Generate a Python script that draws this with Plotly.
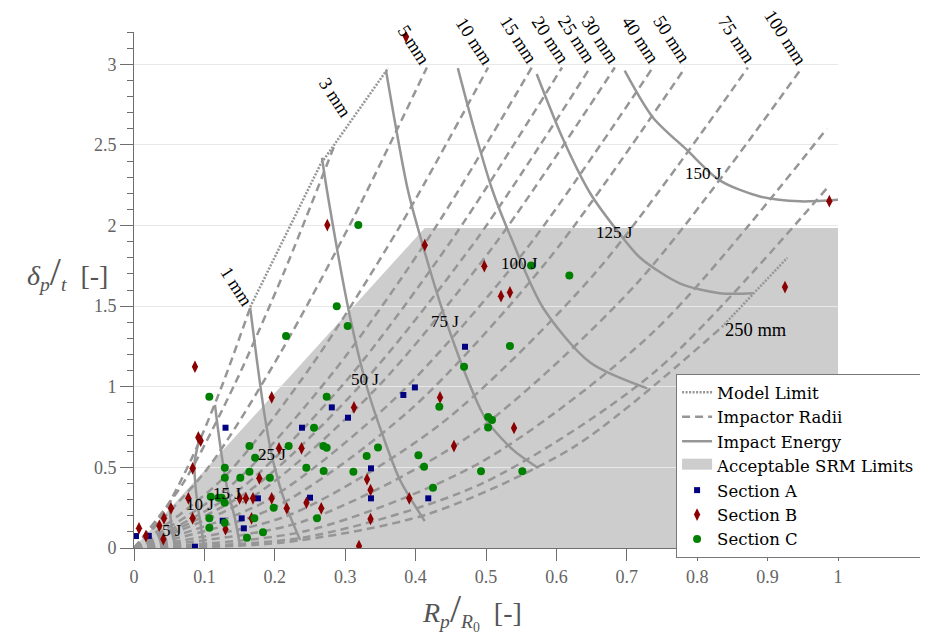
import plotly.graph_objects as go

# ---------------- axis ticks ----------------
x_ticks = [0, 0.1, 0.2, 0.3, 0.4, 0.5, 0.6, 0.7, 0.8, 0.9, 1.0]
x_tick_text = ["0", "0.1", "0.2", "0.3", "0.4", "0.5", "0.6", "0.7", "0.8", "0.9", "1"]
y_ticks = [0, 0.5, 1, 1.5, 2, 2.5, 3]
y_tick_text = ["0", "0.5", "1", "1.5", "2", "2.5", "3"]

# ---------------- impactor radii (dashed) ----------------
radius_names = ["1 mm", "3 mm", "5 mm", "10 mm", "15 mm", "20 mm", "25 mm", "30 mm",
                "40 mm", "50 mm", "75 mm", "100 mm", "150 mm", "200 mm", "250 mm"]
rad_1_x = [0, 0.041, 0.083, 0.124, 0.165]
rad_1_y = [0, 0.215, 0.565, 0.995, 1.49]
rad_3_x = [0, 0.071, 0.143, 0.214, 0.285]
rad_3_y = [0, 0.41, 1.015, 1.72, 2.50]
rad_5_x = [0, 0.104, 0.208, 0.312, 0.416]
rad_5_y = [0, 0.49, 1.21, 2.05, 2.98]
rad_10_x = [0, 0.126, 0.252, 0.377, 0.503]
rad_10_y = [0, 0.43, 1.13, 1.99, 2.98]
rad_15_x = [0, 0.141, 0.283, 0.424, 0.565]
rad_15_y = [0, 0.40, 1.09, 1.96, 2.98]
rad_20_x = [0, 0.152, 0.304, 0.456, 0.608]
rad_20_y = [0, 0.37, 1.05, 1.94, 2.98]
rad_25_x = [0, 0.162, 0.324, 0.486, 0.648]
rad_25_y = [0, 0.35, 1.02, 1.91, 2.98]
rad_30_x = [0, 0.171, 0.342, 0.512, 0.683]
rad_30_y = [0, 0.325, 0.98, 1.88, 2.98]
rad_40_x = [0, 0.184, 0.369, 0.553, 0.737]
rad_40_y = [0, 0.283, 0.92, 1.83, 2.98]
rad_50_x = [0, 0.196, 0.392, 0.587, 0.783]
rad_50_y = [0, 0.244, 0.855, 1.78, 2.98]
rad_75_x = [0, 0.218, 0.436, 0.654, 0.872]
rad_75_y = [0, 0.20, 0.77, 1.70, 2.98]
rad_100_x = [0, 0.237, 0.475, 0.712, 0.949]
rad_100_y = [0, 0.16, 0.69, 1.63, 2.98]
rad_150_x = [0, 0.246, 0.492, 0.738, 0.984]
rad_150_y = [0, 0.107, 0.53, 1.34, 2.60]
rad_200_x = [0, 0.246, 0.492, 0.738, 0.984]
rad_200_y = [0, 0.069, 0.395, 1.086, 2.23]
rad_250_x = [0, 0.209, 0.418, 0.626, 0.835]
rad_250_y = [0, 0.033, 0.211, 0.63, 1.37]

# label positions of the radii (data coords)
radius_label_x = [0.146, 0.2855, 0.397, 0.484, 0.546, 0.591, 0.629, 0.662, 0.719, 0.764, 0.856, 0.925, 1.06, 1.06, 0.8835]
radius_label_y = [1.62, 2.788, 3.118, 3.139, 3.149, 3.149, 3.149, 3.149, 3.149, 3.149, 3.149, 3.16, 2.571, 2.215, 1.351]

# ---------------- impact energy (solid) ----------------
energy_names = ["5 J", "10 J", "15 J", "25 J", "50 J", "75 J", "100 J", "125 J", "150 J"]
e5_x = [0.050, 0.053, 0.057, 0.060]
e5_y = [0.28, 0.15, 0.05, 0.0]
e10_x = [0.092, 0.086, 0.087, 0.092, 0.100]
e10_y = [0.66, 0.53, 0.40, 0.22, 0.005]
e15_x = [0.115, 0.122, 0.132, 0.143, 0.151]
e15_y = [0.887, 0.65, 0.38, 0.19, 0.006]
e25_x = [0.165, 0.175, 0.186, 0.198, 0.217, 0.236]
e25_y = [1.49, 1.15, 0.81, 0.53, 0.25, 0.05]
e50_x = [0.267, 0.274, 0.307, 0.332, 0.354, 0.378, 0.413]
e50_y = [2.42, 2.22, 1.43, 0.98, 0.69, 0.42, 0.167]
e75_x = [0.358, 0.389, 0.41, 0.44, 0.48, 0.501, 0.538, 0.574]
e75_y = [2.96, 2.22, 1.88, 1.45, 0.98, 0.79, 0.61, 0.496]
e100_x = [0.46, 0.483, 0.509, 0.535, 0.581, 0.648, 0.729]
e100_y = [2.976, 2.6, 2.22, 1.93, 1.49, 1.15, 0.99]
e125_x = [0.572, 0.61, 0.648, 0.686, 0.719, 0.776, 0.832, 0.879]
e125_y = [2.94, 2.53, 2.20, 1.97, 1.80, 1.64, 1.58, 1.58]
e150_x = [0.697, 0.737, 0.785, 0.832, 0.889, 0.946, 1.0]
e150_y = [2.96, 2.67, 2.47, 2.28, 2.18, 2.15, 2.16]

energy_label_x = [0.0535, 0.0938, 0.1316, 0.1956, 0.328, 0.4418, 0.548, 0.683, 0.8087]
energy_label_y = [0.107, 0.267, 0.339, 0.577, 1.046, 1.403, 1.765, 1.955, 2.323]

# ---------------- model limits (dotted) ----------------
ml1_x = [0.165, 0.2045, 0.265, 0.361]
ml1_y = [1.494, 1.847, 2.38, 2.976]
ml2_x = [0.835, 0.928]
ml2_y = [1.37, 1.80]

# ---------------- acceptable SRM region ----------------
srm_x = [0, 0.413, 1.0, 1.0, 0]
srm_y = [0, 1.985, 1.985, 0, 0]

# ---------------- measured sections ----------------
secA_x = [0.130, 0.281, 0.304, 0.3826, 0.399, 0.2386, 0.3366, 0.176, 0.25, 0.3366, 0.418,
          0.126, 0.153, 0.156, 0.0028, 0.021, 0.0866, 0.4702]
secA_y = [0.746, 0.872, 0.808, 0.949, 0.996, 0.746, 0.494, 0.308, 0.312, 0.308, 0.308,
          0.169, 0.184, 0.122, 0.074, 0.075, 0.008, 1.248]

secB_x = [0.413, 0.0866, 0.1956, 0.3125, 0.4347, 0.4545, 0.0914, 0.0947, 0.0833, 0.206,
          0.238, 0.178, 0.331, 0.336, 0.0772, 0.150, 0.159, 0.169, 0.1956, 0.391,
          0.0526, 0.0833, 0.0426, 0.167, 0.217, 0.245, 0.266, 0.336, 0.036, 0.0071,
          0.017, 0.0417, 0.130, 0.3196, 0.5398, 0.2746, 0.4976, 0.5213, 0.534, 0.9247,
          0.9877, 0.3864]
secB_y = [1.878, 1.124, 0.934, 0.872, 0.934, 0.632, 0.686, 0.665, 0.494, 0.618,
          0.618, 0.432, 0.426, 0.360, 0.308, 0.308, 0.308, 0.308, 0.308, 0.308,
          0.246, 0.184, 0.184, 0.184, 0.246, 0.281, 0.246, 0.180, 0.138, 0.122,
          0.074, 0.054, 0.116, 0.012, 0.744, 2.0025, 1.748, 1.562, 1.585, 1.618,
          2.151, 3.17]

secC_x = [0.288, 0.3035, 0.216, 0.107, 0.2737, 0.4337, 0.2557, 0.164, 0.2197, 0.269,
          0.2737, 0.3466, 0.172, 0.3305, 0.404, 0.412, 0.129, 0.164, 0.2448, 0.2694,
          0.3116, 0.129, 0.151, 0.193, 0.4247, 0.109, 0.12, 0.1245, 0.1288, 0.1984,
          0.107, 0.171, 0.26, 0.1288, 0.107, 0.1832, 0.1605, 0.503, 0.5085, 0.503,
          0.4929, 0.5516, 0.3186, 0.564, 0.534, 0.4688, 0.6184]
secC_y = [1.50, 1.376, 1.314, 0.938, 0.938, 0.876, 0.746, 0.632, 0.632, 0.632,
          0.622, 0.624, 0.560, 0.570, 0.575, 0.504, 0.498, 0.473, 0.498, 0.477,
          0.473, 0.436, 0.436, 0.436, 0.374, 0.318, 0.312, 0.312, 0.281, 0.250,
          0.184, 0.184, 0.184, 0.157, 0.126, 0.097, 0.064, 0.812, 0.794, 0.748,
          0.4755, 0.4755, 2.0025, 1.752, 1.252, 1.124, 1.69]

# ---------------- styling ----------------
LINE_GRAY = "rgb(150,150,150)"
FILL_GRAY = "rgb(205,205,205)"
SERIF = "Liberation Serif, Times New Roman, serif"
LEG_FONT = "DejaVu Serif, serif"

radius_series = [(rad_1_x, rad_1_y), (rad_3_x, rad_3_y), (rad_5_x, rad_5_y), (rad_10_x, rad_10_y),
                 (rad_15_x, rad_15_y), (rad_20_x, rad_20_y), (rad_25_x, rad_25_y), (rad_30_x, rad_30_y),
                 (rad_40_x, rad_40_y), (rad_50_x, rad_50_y), (rad_75_x, rad_75_y), (rad_100_x, rad_100_y),
                 (rad_150_x, rad_150_y), (rad_200_x, rad_200_y), (rad_250_x, rad_250_y)]
energy_series = [(e5_x, e5_y), (e10_x, e10_y), (e15_x, e15_y), (e25_x, e25_y), (e50_x, e50_y),
                 (e75_x, e75_y), (e100_x, e100_y), (e125_x, e125_y), (e150_x, e150_y)]

fig = go.Figure()

for i, (xs, ys) in enumerate([(ml1_x, ml1_y), (ml2_x, ml2_y)]):
    fig.add_trace(go.Scatter(x=xs, y=ys, mode="lines", name="Model Limit",
                             line=dict(color=LINE_GRAY, width=2.5, dash="2px,1.5px"),
                             legendgroup="ml", showlegend=(i == 0), legendrank=1, hoverinfo="skip"))

for i, (xs, ys) in enumerate(radius_series):
    fig.add_trace(go.Scatter(x=xs, y=ys, mode="lines", name="Impactor Radii",
                             line=dict(color=LINE_GRAY, width=2.5, dash="8px,5px", shape="spline", smoothing=0.8),
                             legendgroup="rad", showlegend=(i == 0), legendrank=2, hoverinfo="skip"))

for i, (xs, ys) in enumerate(energy_series):
    fig.add_trace(go.Scatter(x=xs, y=ys, mode="lines", name="Impact Energy",
                             line=dict(color=LINE_GRAY, width=2.5, shape="spline", smoothing=0.8),
                             legendgroup="en", showlegend=(i == 0), legendrank=3, hoverinfo="skip"))

# legend entry for SRM fill (region itself is drawn as a shape below the grid)
fig.add_trace(go.Scatter(x=[None], y=[None], mode="lines", fill="toself", fillcolor=FILL_GRAY,
                         line=dict(width=16, color=FILL_GRAY), name="Acceptable SRM Limits",
                         legendrank=4))

fig.add_trace(go.Scatter(x=secA_x, y=secA_y, mode="markers", name="Section A",
                         marker=dict(symbol="square", size=6, color="rgb(0,0,128)"), legendrank=5))
fig.add_trace(go.Scatter(x=secB_x, y=secB_y, mode="markers", name="Section B",
                         marker=dict(symbol="diamond-tall", size=9, color="rgb(139,0,0)"), legendrank=6))
fig.add_trace(go.Scatter(x=secC_x, y=secC_y, mode="markers", name="Section C",
                         marker=dict(symbol="circle", size=8, color="rgb(0,128,0)"), legendrank=7))

srm_path = "M " + " L ".join(f"{x},{y}" for x, y in zip(srm_x, srm_y)) + " Z"
fig.add_shape(type="path", path=srm_path, xref="x", yref="y", fillcolor=FILL_GRAY,
              line=dict(width=0), layer="below")

annotations = []
for name, lx, ly in zip(radius_names, radius_label_x, radius_label_y):
    horizontal = name in ("150 mm", "200 mm", "250 mm")
    annotations.append(dict(x=lx, y=ly, xref="x", yref="y", text=name, showarrow=False,
                            textangle=0 if horizontal else 57,
                            font=dict(family=SERIF, size=18.5, color="black")))
for name, lx, ly in zip(energy_names, energy_label_x, energy_label_y):
    annotations.append(dict(x=lx, y=ly, xref="x", yref="y", text=name, showarrow=False,
                            font=dict(family=SERIF, size=17, color="black")))

# axis titles
annotations.append(dict(xref="paper", yref="paper", x=-0.095, y=0.535, xanchor="center", yanchor="middle",
                        text="<i>δ</i><sub><i>p</i></sub><span style='font-size:40px'>/</span><sub><i>t</i></sub>  [-]",
                        showarrow=False, font=dict(family=SERIF, size=28, color="rgb(85,85,85)")))
annotations.append(dict(xref="paper", yref="paper", x=0.48, y=-0.122, xanchor="center", yanchor="middle",
                        text="<i>R</i><sub><i>p</i></sub><span style='font-size:40px'>/</span><sub><i>R</i><sub>0</sub></sub>  [-]",
                        showarrow=False, font=dict(family=SERIF, size=28, color="rgb(85,85,85)")))

fig.update_layout(
    width=928, height=636,
    margin=dict(l=126, r=98, t=24, b=96),
    paper_bgcolor="white", plot_bgcolor="white",
    font=dict(family=SERIF, size=17, color="black"),
    showlegend=True,
    legend=dict(x=0.77, y=0.337, xanchor="left", yanchor="top", bgcolor="white",
                bordercolor="rgb(120,120,120)", borderwidth=1, traceorder="normal",
                font=dict(family=LEG_FONT, size=16.5, color="black"),
                itemwidth=30, tracegroupgap=0),
    xaxis=dict(range=[0, 1], tickvals=x_ticks, ticktext=x_tick_text, ticks="outside", ticklen=12,
               tickcolor="rgb(110,110,110)", showline=True, linecolor="rgb(110,110,110)", linewidth=1,
               showgrid=False, zeroline=False,
               tickfont=dict(family=SERIF, size=18, color="rgb(100,100,100)")),
    yaxis=dict(range=[0, 3.2], tickvals=y_ticks, ticktext=y_tick_text, ticks="outside", ticklen=13,
               tickcolor="rgb(110,110,110)", showline=True, linecolor="rgb(110,110,110)", linewidth=1,
               showgrid=True, gridcolor="rgb(232,232,232)", gridwidth=1, zeroline=False,
               minor=dict(dtick=0.1, ticks="outside", ticklen=6, tickcolor="rgb(110,110,110)", showgrid=False),
               tickfont=dict(family=SERIF, size=18, color="rgb(100,100,100)")),
    annotations=annotations,
)

fig.write_html("out.html")
